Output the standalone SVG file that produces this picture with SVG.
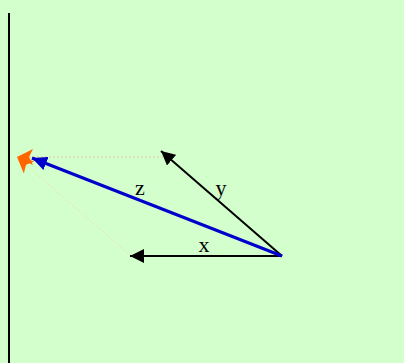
<svg xmlns="http://www.w3.org/2000/svg" width="404" height="363" viewBox="0 0 404 363">
<style>
.lbl{font-family:"Liberation Serif","Times New Roman",serif;font-size:22px;fill:#000;text-anchor:middle}
.vec{stroke:#000;stroke-width:2;fill:none}
.sum{stroke:#0000cc;stroke-width:3;fill:none}
.guide{stroke-width:1;fill:none;stroke-dasharray:2,2}
</style>
<defs>
<marker id="ah" markerUnits="userSpaceOnUse" viewBox="0 0 14 14" refX="14" refY="7" markerWidth="14" markerHeight="14" orient="auto">
<path d="M0,0 L14,7 L0,14 Z" fill="#000"/>
</marker>
<marker id="ahb" markerUnits="userSpaceOnUse" viewBox="0 0 15 14" refX="15" refY="7" markerWidth="15" markerHeight="14" orient="auto">
<path d="M0,0 L15,7 L0,14 Z" fill="#0000cc"/>
</marker>
<marker id="aho" markerUnits="userSpaceOnUse" viewBox="0 0 16 16" refX="16" refY="8" markerWidth="16" markerHeight="16" orient="auto">
<path d="M0,0 L16,8 L0,16 L4,8 Z" fill="#ff6600"/>
</marker>
</defs>
<rect x="0" y="0" width="404" height="363" fill="#d3ffcc"/>
<line x1="9" y1="13" x2="9" y2="363" stroke="#000" stroke-width="2"/>
<g id="connectors">
<line id="guide-x" class="guide" stroke="#e8c8a0" x1="163" y1="157" x2="17" y2="157" marker-end="url(#aho)"/>
<line id="guide-y" class="guide" stroke="#ece4a8" x1="131" y1="256" x2="17" y2="157" marker-end="url(#aho)"/>
<line id="vec-x" class="vec" x1="282" y1="256" x2="130" y2="256" marker-end="url(#ah)"/>
<line id="vec-y" class="vec" x1="282" y1="256" x2="161" y2="151" marker-end="url(#ah)"/>
<line id="vec-z" class="sum" x1="282" y1="256" x2="32" y2="158" marker-end="url(#ahb)"/>
</g>
<g id="label-z"><text class="lbl" x="140" y="195">z</text></g>
<g id="label-y"><text class="lbl" x="221" y="195">y</text></g>
<g id="label-x"><text class="lbl" x="204" y="252">x</text></g>
</svg>
